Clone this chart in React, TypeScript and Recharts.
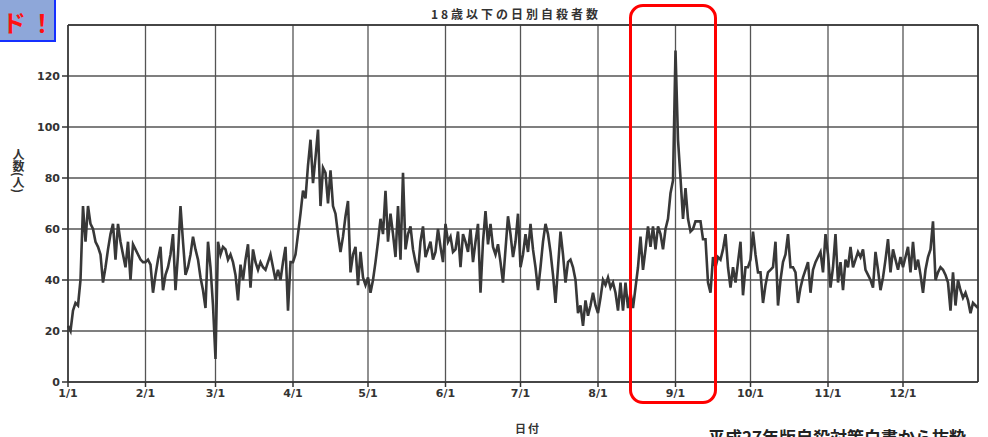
import React from 'react';
import { LineChart, Line, XAxis, YAxis, CartesianGrid, ReferenceLine } from 'recharts';

// daily counts
const jan = [22, 20, 28, 31, 30, 40, 69, 55, 69, 62, 60, 55, 53, 50, 39, 45, 52, 58, 62, 48, 62, 55, 50, 45, 55, 40, 54, 52, 50, 48, 47];
const feb = [47, 48, 46, 35, 42, 48, 53, 36, 42, 45, 50, 58, 36, 50, 69, 55, 42, 45, 50, 57, 52, 48, 41, 36, 29, 55, 45, 30];
const mar = [9, 55, 50, 53, 52, 48, 50, 47, 42, 32, 46, 40, 48, 54, 37, 52, 47, 44, 47, 45, 44, 47, 50, 45, 40, 44, 40, 47, 53, 28, 47];
const apr = [47, 50, 58, 66, 75, 72, 85, 95, 78, 88, 99, 69, 84, 82, 70, 83, 69, 66, 58, 51, 57, 65, 71, 43, 50, 53, 38, 51, 41, 38];
const may = [41, 35, 40, 47, 55, 64, 58, 75, 55, 66, 58, 49, 69, 48, 82, 52, 58, 61, 52, 47, 43, 55, 61, 49, 52, 55, 48, 51, 60, 53, 47];
const jun = [62, 55, 57, 51, 52, 59, 45, 58, 55, 51, 60, 47, 55, 62, 35, 55, 67, 54, 62, 53, 50, 54, 47, 39, 52, 65, 58, 49, 55, 66];
const jul = [45, 50, 58, 51, 62, 52, 45, 36, 45, 55, 62, 58, 51, 42, 31, 45, 59, 50, 39, 47, 48, 45, 40, 27, 30, 22, 32, 26, 30, 35, 30];
const aug = [27, 33, 40, 38, 41, 37, 39, 35, 28, 39, 28, 39, 29, 35, 29, 37, 45, 57, 44, 52, 61, 53, 61, 52, 61, 58, 52, 60, 64, 74, 79];
const sep = [130, 95, 80, 64, 76, 64, 59, 60, 63, 63, 63, 56, 56, 39, 35, 49, 45, 49, 48, 52, 58, 45, 37, 45, 39, 47, 55, 34, 45, 45];
const oct = [48, 59, 50, 43, 43, 31, 38, 43, 44, 45, 55, 30, 40, 47, 50, 58, 45, 45, 43, 31, 37, 41, 44, 47, 35, 44, 47, 49, 51, 43, 58];
const nov = [50, 37, 45, 58, 39, 47, 36, 48, 45, 53, 45, 48, 51, 49, 52, 44, 42, 40, 37, 51, 44, 36, 41, 48, 56, 43, 52, 48, 44, 49];
const dec = [45, 49, 53, 43, 55, 44, 48, 42, 35, 44, 49, 52, 63, 40, 43, 45, 44, 42, 39, 28, 43, 30, 40, 36, 33, 35, 32, 27, 31, 30, 29];

const months = [jan, feb, mar, apr, may, jun, jul, aug, sep, oct, nov, dec];
const monthLabels = ['1/1', '2/1', '3/1', '4/1', '5/1', '6/1', '7/1', '8/1', '9/1', '10/1', '11/1', '12/1'];
const yTicks = [0, 20, 40, 60, 80, 100, 120];

const monthStarts: number[] = [];
const data: { day: number; count: number }[] = [];
months.forEach((m) => {
  monthStarts.push(data.length);
  m.forEach((v) => data.push({ day: data.length, count: v }));
});
const lastDay = data.length - 1;

const tickStyle = { fontFamily: 'DejaVu Sans', fontWeight: 700, fontSize: 11, fill: '#333' };
const jp = '"Noto Sans CJK JP", sans-serif';

export default function App() {
  return (
    <div style={{ position: 'absolute', left: 0, top: 0, width: 988, height: 437, overflow: 'hidden', background: '#fff' }}>
      <LineChart width={988} height={437} data={data} margin={{ top: 25, right: 10, bottom: 35, left: 0 }}>
        <CartesianGrid stroke="#555" strokeWidth={1.3} />
        <XAxis
          type="number"
          dataKey="day"
          domain={[0, lastDay]}
          ticks={monthStarts}
          tickFormatter={(v: number) => monthLabels[monthStarts.indexOf(v)]}
          height={20}
          stroke="#333"
          strokeWidth={1.5}
          tick={tickStyle}
          tickSize={5}
          interval={0}
        />
        <YAxis
          domain={[0, 140]}
          ticks={yTicks}
          width={68}
          stroke="#333"
          strokeWidth={1.5}
          tick={tickStyle}
          tickSize={6}
          interval={0}
        />
        <ReferenceLine y={140} stroke="#333" strokeWidth={1.5} />
        <ReferenceLine x={lastDay} stroke="#333" strokeWidth={1.5} />
        <Line
          type="linear"
          dataKey="count"
          stroke="#383838"
          strokeWidth={2.6}
          dot={false}
          isAnimationActive={false}
        />
      </LineChart>

      <div style={{ position: 'absolute', left: 0, top: 5, width: 988, textAlign: 'center', paddingLeft: 44, boxSizing: 'border-box', fontFamily: jp, fontWeight: 700, fontSize: 12, letterSpacing: 3, color: '#333' }}>
        18歳以下の日別自殺者数
      </div>
      <div style={{ position: 'absolute', left: 12, top: 148, writingMode: 'vertical-rl', fontFamily: jp, fontWeight: 700, fontSize: 12, color: '#333', lineHeight: 1 }}>
        人数(人)
      </div>
      <div style={{ position: 'absolute', left: 515, top: 420, fontFamily: jp, fontWeight: 700, fontSize: 11, letterSpacing: 2, color: '#333' }}>
        日付
      </div>
      <div style={{ position: 'absolute', left: 708, top: 424, fontFamily: jp, fontWeight: 700, fontSize: 17, color: '#222', whiteSpace: 'nowrap' }}>
        平成27年版自殺対策白書から抜粋
      </div>

      <div style={{ position: 'absolute', left: -2, top: -4, width: 58, height: 46, background: '#8ea7d9', border: '2px solid #1530ff', boxSizing: 'border-box', overflow: 'hidden' }}>
        <div style={{ position: 'absolute', left: 2, top: 6, fontFamily: jp, fontWeight: 700, fontSize: 24, color: '#ff1010', letterSpacing: 4, whiteSpace: 'nowrap' }}>
          ド！
        </div>
      </div>
      <div style={{ position: 'absolute', left: 629, top: 4, width: 88, height: 400, border: '3px solid #f00', borderRadius: 14, boxSizing: 'border-box' }} />
    </div>
  );
}
